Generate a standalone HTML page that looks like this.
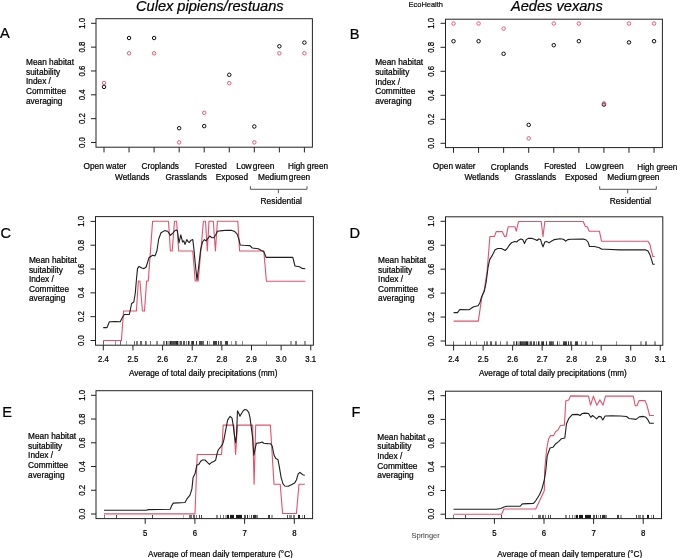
<!DOCTYPE html>
<html><head><meta charset="utf-8"><style>
html,body{margin:0;padding:0;background:#fff;width:677px;height:558px;overflow:hidden}
svg{display:block;will-change:transform}
text{font-family:"Liberation Sans", sans-serif;stroke:currentColor;stroke-width:0.22px}
</style></head><body>
<svg width="677" height="558" viewBox="0 0 677 558" font-family='"Liberation Sans", sans-serif'>
<rect width="677" height="558" fill="#fff"/>
<text x="136" y="10.9" font-size="14.6" textLength="147.6" lengthAdjust="spacingAndGlyphs" font-style="italic">Culex pipiens/restuans</text>
<text x="511" y="10.9" font-size="14.6" textLength="91.8" lengthAdjust="spacingAndGlyphs" font-style="italic">Aedes vexans</text>
<text x="408.6" y="6.8" font-size="7.6" textLength="34.4" lengthAdjust="spacingAndGlyphs" fill="#222" stroke="#222">EcoHealth</text>
<text x="411.4" y="537.8" font-size="7.6" textLength="28.4" lengthAdjust="spacingAndGlyphs" fill="#6a6a6a" stroke="#6a6a6a" style="stroke-width:0.1px">Springer</text>
<text x="0" y="37.7" font-size="14.6">A</text>
<text x="349.7" y="38.7" font-size="14.6">B</text>
<text x="0.6" y="237.8" font-size="14.6">C</text>
<text x="349.4" y="237.7" font-size="14.6">D</text>
<text x="2.2" y="416.9" font-size="14.6">E</text>
<text x="351.4" y="417.4" font-size="14.6">F</text>
<rect x="96" y="18.7" width="216.4" height="128.5" fill="none" stroke="#222" stroke-width="1.0"/>
<line x1="91" y1="142.5" x2="96" y2="142.5" stroke="#222" stroke-width="1"/>
<text x="0" y="0" font-size="7.8" text-anchor="middle" transform="translate(84.6,142.5) rotate(-90) scale(1,1.12)">0.0</text>
<line x1="91" y1="118.66" x2="96" y2="118.66" stroke="#222" stroke-width="1"/>
<text x="0" y="0" font-size="7.8" text-anchor="middle" transform="translate(84.6,118.66) rotate(-90) scale(1,1.12)">0.2</text>
<line x1="91" y1="94.82" x2="96" y2="94.82" stroke="#222" stroke-width="1"/>
<text x="0" y="0" font-size="7.8" text-anchor="middle" transform="translate(84.6,94.82) rotate(-90) scale(1,1.12)">0.4</text>
<line x1="91" y1="70.98" x2="96" y2="70.98" stroke="#222" stroke-width="1"/>
<text x="0" y="0" font-size="7.8" text-anchor="middle" transform="translate(84.6,70.98) rotate(-90) scale(1,1.12)">0.6</text>
<line x1="91" y1="47.14" x2="96" y2="47.14" stroke="#222" stroke-width="1"/>
<text x="0" y="0" font-size="7.8" text-anchor="middle" transform="translate(84.6,47.14) rotate(-90) scale(1,1.12)">0.8</text>
<line x1="91" y1="23.3" x2="96" y2="23.3" stroke="#222" stroke-width="1"/>
<text x="0" y="0" font-size="7.8" text-anchor="middle" transform="translate(84.6,23.3) rotate(-90) scale(1,1.12)">1.0</text>
<line x1="104" y1="147.2" x2="104" y2="152.4" stroke="#222" stroke-width="1"/>
<line x1="129.05" y1="147.2" x2="129.05" y2="152.4" stroke="#222" stroke-width="1"/>
<line x1="154.1" y1="147.2" x2="154.1" y2="152.4" stroke="#222" stroke-width="1"/>
<line x1="179.15" y1="147.2" x2="179.15" y2="152.4" stroke="#222" stroke-width="1"/>
<line x1="204.2" y1="147.2" x2="204.2" y2="152.4" stroke="#222" stroke-width="1"/>
<line x1="229.25" y1="147.2" x2="229.25" y2="152.4" stroke="#222" stroke-width="1"/>
<line x1="254.3" y1="147.2" x2="254.3" y2="152.4" stroke="#222" stroke-width="1"/>
<line x1="279.35" y1="147.2" x2="279.35" y2="152.4" stroke="#222" stroke-width="1"/>
<line x1="304.4" y1="147.2" x2="304.4" y2="152.4" stroke="#222" stroke-width="1"/>
<text x="83.5" y="168.7" font-size="8.4" textLength="42.8" lengthAdjust="spacingAndGlyphs">Open water</text>
<text x="115.1" y="179.9" font-size="8.4" textLength="34.4" lengthAdjust="spacingAndGlyphs">Wetlands</text>
<text x="141.5" y="168.7" font-size="8.4" textLength="37.5" lengthAdjust="spacingAndGlyphs">Croplands</text>
<text x="165.5" y="179.9" font-size="8.4" textLength="41.4" lengthAdjust="spacingAndGlyphs">Grasslands</text>
<text x="194.9" y="168.7" font-size="8.4" textLength="32" lengthAdjust="spacingAndGlyphs">Forested</text>
<text x="215.8" y="179.9" font-size="8.4" textLength="32.2" lengthAdjust="spacingAndGlyphs">Exposed</text>
<text x="236.2" y="168.7" font-size="8.4" textLength="38.2" lengthAdjust="spacingAndGlyphs" word-spacing="-1.2">Low green</text>
<text x="258" y="179.9" font-size="8.4" textLength="52.2" lengthAdjust="spacingAndGlyphs" word-spacing="-1.2">Medium green</text>
<text x="288" y="168.7" font-size="8.4" textLength="40" lengthAdjust="spacingAndGlyphs">High green</text>
<path d="M250.4,186.2 V189.3 H307 V186.2 M278.4,189.3 V193.2" fill="none" stroke="#444" stroke-width="0.9"/>
<text x="260.5" y="203.6" font-size="8.4" textLength="41.4" lengthAdjust="spacingAndGlyphs">Residential</text>
<circle cx="104" cy="86.9" r="1.75" fill="none" stroke="#000" stroke-width="0.95"/>
<circle cx="104" cy="82.9" r="1.75" fill="none" stroke="#DF536B" stroke-width="0.95"/>
<circle cx="129.05" cy="38" r="1.75" fill="none" stroke="#000" stroke-width="0.95"/>
<circle cx="129.05" cy="53.3" r="1.75" fill="none" stroke="#DF536B" stroke-width="0.95"/>
<circle cx="154.1" cy="38" r="1.75" fill="none" stroke="#000" stroke-width="0.95"/>
<circle cx="154.1" cy="53.3" r="1.75" fill="none" stroke="#DF536B" stroke-width="0.95"/>
<circle cx="179.15" cy="128.2" r="1.75" fill="none" stroke="#000" stroke-width="0.95"/>
<circle cx="179.15" cy="142.4" r="1.75" fill="none" stroke="#DF536B" stroke-width="0.95"/>
<circle cx="204.2" cy="126.1" r="1.75" fill="none" stroke="#000" stroke-width="0.95"/>
<circle cx="204.2" cy="112.8" r="1.75" fill="none" stroke="#DF536B" stroke-width="0.95"/>
<circle cx="229.25" cy="74.8" r="1.75" fill="none" stroke="#000" stroke-width="0.95"/>
<circle cx="229.25" cy="83.2" r="1.75" fill="none" stroke="#DF536B" stroke-width="0.95"/>
<circle cx="254.3" cy="126.5" r="1.75" fill="none" stroke="#000" stroke-width="0.95"/>
<circle cx="254.3" cy="142.4" r="1.75" fill="none" stroke="#DF536B" stroke-width="0.95"/>
<circle cx="279.35" cy="46.3" r="1.75" fill="none" stroke="#000" stroke-width="0.95"/>
<circle cx="279.35" cy="53.3" r="1.75" fill="none" stroke="#DF536B" stroke-width="0.95"/>
<circle cx="304.4" cy="42.6" r="1.75" fill="none" stroke="#000" stroke-width="0.95"/>
<circle cx="304.4" cy="53.3" r="1.75" fill="none" stroke="#DF536B" stroke-width="0.95"/>
<text x="26" y="64.7" font-size="8.3">Mean habitat</text>
<text x="26" y="74.5" font-size="8.3">suitability</text>
<text x="26" y="84.3" font-size="8.3">Index /</text>
<text x="26" y="94.1" font-size="8.3">Committee</text>
<text x="26" y="103.9" font-size="8.3">averaging</text>
<rect x="445.5" y="19.2" width="216.9" height="128.4" fill="none" stroke="#222" stroke-width="1.0"/>
<line x1="440.5" y1="143.3" x2="445.5" y2="143.3" stroke="#222" stroke-width="1"/>
<text x="0" y="0" font-size="7.8" text-anchor="middle" transform="translate(434.1,143.3) rotate(-90) scale(1,1.12)">0.0</text>
<line x1="440.5" y1="119.3" x2="445.5" y2="119.3" stroke="#222" stroke-width="1"/>
<text x="0" y="0" font-size="7.8" text-anchor="middle" transform="translate(434.1,119.3) rotate(-90) scale(1,1.12)">0.2</text>
<line x1="440.5" y1="95.3" x2="445.5" y2="95.3" stroke="#222" stroke-width="1"/>
<text x="0" y="0" font-size="7.8" text-anchor="middle" transform="translate(434.1,95.3) rotate(-90) scale(1,1.12)">0.4</text>
<line x1="440.5" y1="71.3" x2="445.5" y2="71.3" stroke="#222" stroke-width="1"/>
<text x="0" y="0" font-size="7.8" text-anchor="middle" transform="translate(434.1,71.3) rotate(-90) scale(1,1.12)">0.6</text>
<line x1="440.5" y1="47.3" x2="445.5" y2="47.3" stroke="#222" stroke-width="1"/>
<text x="0" y="0" font-size="7.8" text-anchor="middle" transform="translate(434.1,47.3) rotate(-90) scale(1,1.12)">0.8</text>
<line x1="440.5" y1="23.3" x2="445.5" y2="23.3" stroke="#222" stroke-width="1"/>
<text x="0" y="0" font-size="7.8" text-anchor="middle" transform="translate(434.1,23.3) rotate(-90) scale(1,1.12)">1.0</text>
<line x1="453.5" y1="147.6" x2="453.5" y2="152.8" stroke="#222" stroke-width="1"/>
<line x1="478.57" y1="147.6" x2="478.57" y2="152.8" stroke="#222" stroke-width="1"/>
<line x1="503.64" y1="147.6" x2="503.64" y2="152.8" stroke="#222" stroke-width="1"/>
<line x1="528.71" y1="147.6" x2="528.71" y2="152.8" stroke="#222" stroke-width="1"/>
<line x1="553.78" y1="147.6" x2="553.78" y2="152.8" stroke="#222" stroke-width="1"/>
<line x1="578.85" y1="147.6" x2="578.85" y2="152.8" stroke="#222" stroke-width="1"/>
<line x1="603.92" y1="147.6" x2="603.92" y2="152.8" stroke="#222" stroke-width="1"/>
<line x1="628.99" y1="147.6" x2="628.99" y2="152.8" stroke="#222" stroke-width="1"/>
<line x1="654.06" y1="147.6" x2="654.06" y2="152.8" stroke="#222" stroke-width="1"/>
<text x="432.8" y="168.7" font-size="8.4" textLength="42.8" lengthAdjust="spacingAndGlyphs">Open water</text>
<text x="464.4" y="179.9" font-size="8.4" textLength="34.4" lengthAdjust="spacingAndGlyphs">Wetlands</text>
<text x="490.8" y="169.5" font-size="8.4" textLength="37.5" lengthAdjust="spacingAndGlyphs">Croplands</text>
<text x="514.8" y="179.9" font-size="8.4" textLength="41.4" lengthAdjust="spacingAndGlyphs">Grasslands</text>
<text x="544.2" y="168.7" font-size="8.4" textLength="32" lengthAdjust="spacingAndGlyphs">Forested</text>
<text x="565.1" y="179.9" font-size="8.4" textLength="32.2" lengthAdjust="spacingAndGlyphs">Exposed</text>
<text x="585.5" y="168.7" font-size="8.4" textLength="38.2" lengthAdjust="spacingAndGlyphs" word-spacing="-1.2">Low green</text>
<text x="607.3" y="179.9" font-size="8.4" textLength="52.2" lengthAdjust="spacingAndGlyphs" word-spacing="-1.2">Medium green</text>
<text x="637.3" y="169.7" font-size="8.4" textLength="40" lengthAdjust="spacingAndGlyphs">High green</text>
<path d="M599.7,186.2 V189.3 H656.3 V186.2 M627.7,189.3 V193.2" fill="none" stroke="#444" stroke-width="0.9"/>
<text x="609.8" y="203.6" font-size="8.4" textLength="41.4" lengthAdjust="spacingAndGlyphs">Residential</text>
<circle cx="453.5" cy="41.2" r="1.75" fill="none" stroke="#000" stroke-width="0.95"/>
<circle cx="453.5" cy="23.5" r="1.75" fill="none" stroke="#DF536B" stroke-width="0.95"/>
<circle cx="478.57" cy="41.2" r="1.75" fill="none" stroke="#000" stroke-width="0.95"/>
<circle cx="478.57" cy="23.5" r="1.75" fill="none" stroke="#DF536B" stroke-width="0.95"/>
<circle cx="503.64" cy="53.8" r="1.75" fill="none" stroke="#000" stroke-width="0.95"/>
<circle cx="503.64" cy="28.6" r="1.75" fill="none" stroke="#DF536B" stroke-width="0.95"/>
<circle cx="528.71" cy="124.9" r="1.75" fill="none" stroke="#000" stroke-width="0.95"/>
<circle cx="528.71" cy="138.4" r="1.75" fill="none" stroke="#DF536B" stroke-width="0.95"/>
<circle cx="553.78" cy="45.2" r="1.75" fill="none" stroke="#000" stroke-width="0.95"/>
<circle cx="553.78" cy="23.5" r="1.75" fill="none" stroke="#DF536B" stroke-width="0.95"/>
<circle cx="578.85" cy="41.2" r="1.75" fill="none" stroke="#000" stroke-width="0.95"/>
<circle cx="578.85" cy="23.5" r="1.75" fill="none" stroke="#DF536B" stroke-width="0.95"/>
<circle cx="603.92" cy="104.6" r="1.75" fill="none" stroke="#000" stroke-width="0.95"/>
<circle cx="603.92" cy="103.4" r="1.75" fill="none" stroke="#DF536B" stroke-width="0.95"/>
<circle cx="628.99" cy="42.4" r="1.75" fill="none" stroke="#000" stroke-width="0.95"/>
<circle cx="628.99" cy="23.5" r="1.75" fill="none" stroke="#DF536B" stroke-width="0.95"/>
<circle cx="654.06" cy="41.2" r="1.75" fill="none" stroke="#000" stroke-width="0.95"/>
<circle cx="654.06" cy="23.5" r="1.75" fill="none" stroke="#DF536B" stroke-width="0.95"/>
<text x="375.2" y="65" font-size="8.3">Mean habitat</text>
<text x="375.2" y="74.75" font-size="8.3">suitability</text>
<text x="375.2" y="84.5" font-size="8.3">Index /</text>
<text x="375.2" y="94.25" font-size="8.3">Committee</text>
<text x="375.2" y="104" font-size="8.3">averaging</text>
<rect x="95.5" y="216.6" width="217.9" height="128.6" fill="none" stroke="#222" stroke-width="1.0"/>
<line x1="90.5" y1="340.5" x2="95.5" y2="340.5" stroke="#222" stroke-width="1"/>
<text x="0" y="0" font-size="7.8" text-anchor="middle" transform="translate(84.1,340.5) rotate(-90) scale(1,1.12)">0.0</text>
<line x1="90.5" y1="316.68" x2="95.5" y2="316.68" stroke="#222" stroke-width="1"/>
<text x="0" y="0" font-size="7.8" text-anchor="middle" transform="translate(84.1,316.68) rotate(-90) scale(1,1.12)">0.2</text>
<line x1="90.5" y1="292.86" x2="95.5" y2="292.86" stroke="#222" stroke-width="1"/>
<text x="0" y="0" font-size="7.8" text-anchor="middle" transform="translate(84.1,292.86) rotate(-90) scale(1,1.12)">0.4</text>
<line x1="90.5" y1="269.04" x2="95.5" y2="269.04" stroke="#222" stroke-width="1"/>
<text x="0" y="0" font-size="7.8" text-anchor="middle" transform="translate(84.1,269.04) rotate(-90) scale(1,1.12)">0.6</text>
<line x1="90.5" y1="245.22" x2="95.5" y2="245.22" stroke="#222" stroke-width="1"/>
<text x="0" y="0" font-size="7.8" text-anchor="middle" transform="translate(84.1,245.22) rotate(-90) scale(1,1.12)">0.8</text>
<line x1="90.5" y1="221.4" x2="95.5" y2="221.4" stroke="#222" stroke-width="1"/>
<text x="0" y="0" font-size="7.8" text-anchor="middle" transform="translate(84.1,221.4) rotate(-90) scale(1,1.12)">1.0</text>
<line x1="103.3" y1="345.2" x2="103.3" y2="350.4" stroke="#222" stroke-width="1"/>
<text x="0" y="0" font-size="7.8" text-anchor="middle" transform="translate(103.3,362.4) scale(1,1.12)">2.4</text>
<line x1="132.94" y1="345.2" x2="132.94" y2="350.4" stroke="#222" stroke-width="1"/>
<text x="0" y="0" font-size="7.8" text-anchor="middle" transform="translate(132.94,362.4) scale(1,1.12)">2.5</text>
<line x1="162.58" y1="345.2" x2="162.58" y2="350.4" stroke="#222" stroke-width="1"/>
<text x="0" y="0" font-size="7.8" text-anchor="middle" transform="translate(162.58,362.4) scale(1,1.12)">2.6</text>
<line x1="192.22" y1="345.2" x2="192.22" y2="350.4" stroke="#222" stroke-width="1"/>
<text x="0" y="0" font-size="7.8" text-anchor="middle" transform="translate(192.22,362.4) scale(1,1.12)">2.7</text>
<line x1="221.86" y1="345.2" x2="221.86" y2="350.4" stroke="#222" stroke-width="1"/>
<text x="0" y="0" font-size="7.8" text-anchor="middle" transform="translate(221.86,362.4) scale(1,1.12)">2.8</text>
<line x1="251.5" y1="345.2" x2="251.5" y2="350.4" stroke="#222" stroke-width="1"/>
<text x="0" y="0" font-size="7.8" text-anchor="middle" transform="translate(251.5,362.4) scale(1,1.12)">2.9</text>
<line x1="281.14" y1="345.2" x2="281.14" y2="350.4" stroke="#222" stroke-width="1"/>
<text x="0" y="0" font-size="7.8" text-anchor="middle" transform="translate(281.14,362.4) scale(1,1.12)">3.0</text>
<line x1="310.78" y1="345.2" x2="310.78" y2="350.4" stroke="#222" stroke-width="1"/>
<text x="0" y="0" font-size="7.8" text-anchor="middle" transform="translate(310.78,362.4) scale(1,1.12)">3.1</text>
<text x="129" y="375.8" font-size="8.3" textLength="148.4" lengthAdjust="spacingAndGlyphs">Average of total daily precipitations (mm)</text>
<rect x="103" y="341" width="1" height="3.8" fill="#000" fill-opacity="0.6"/>
<rect x="115" y="341" width="1" height="3.8" fill="#000" fill-opacity="0.45"/>
<rect x="120" y="341" width="1" height="3.8" fill="#000" fill-opacity="0.6"/>
<rect x="126" y="341" width="1" height="3.8" fill="#000" fill-opacity="0.35"/>
<rect x="134" y="341" width="1" height="3.8" fill="#000" fill-opacity="0.6"/>
<rect x="136" y="341" width="1" height="3.8" fill="#000" fill-opacity="0.5"/>
<rect x="137" y="341" width="1" height="3.8" fill="#000" fill-opacity="0.5"/>
<rect x="140" y="341" width="1" height="3.8" fill="#000" fill-opacity="0.6"/>
<rect x="141" y="341" width="1" height="3.8" fill="#000" fill-opacity="0.6"/>
<rect x="145" y="341" width="1" height="3.8" fill="#000" fill-opacity="0.6"/>
<rect x="146" y="341" width="1" height="3.8" fill="#000" fill-opacity="0.4"/>
<rect x="150" y="341" width="1" height="3.8" fill="#000" fill-opacity="0.55"/>
<rect x="156" y="341" width="1" height="3.8" fill="#000" fill-opacity="0.4"/>
<rect x="157" y="341" width="1" height="3.8" fill="#000" fill-opacity="0.45"/>
<rect x="163" y="341" width="1" height="3.8" fill="#000" fill-opacity="0.5"/>
<rect x="164" y="341" width="1" height="3.8" fill="#000" fill-opacity="0.4"/>
<rect x="166" y="341" width="1" height="3.8" fill="#000" fill-opacity="0.85"/>
<rect x="167" y="341" width="1" height="3.8" fill="#000" fill-opacity="0.3"/>
<rect x="168" y="341" width="1" height="3.8" fill="#000" fill-opacity="0.3"/>
<rect x="169" y="341" width="1" height="3.8" fill="#000" fill-opacity="0.4"/>
<rect x="170" y="341" width="1" height="3.8" fill="#000" fill-opacity="0.85"/>
<rect x="171" y="341" width="1" height="3.8" fill="#000" fill-opacity="0.7"/>
<rect x="172" y="341" width="1" height="3.8" fill="#000" fill-opacity="0.7"/>
<rect x="173" y="341" width="1" height="3.8" fill="#000" fill-opacity="0.7"/>
<rect x="174" y="341" width="1" height="3.8" fill="#000" fill-opacity="0.7"/>
<rect x="175" y="341" width="1" height="3.8" fill="#000" fill-opacity="0.7"/>
<rect x="176" y="341" width="1" height="3.8" fill="#000" fill-opacity="0.85"/>
<rect x="177" y="341" width="1" height="3.8" fill="#000" fill-opacity="0.85"/>
<rect x="178" y="341" width="1" height="3.8" fill="#000" fill-opacity="0.3"/>
<rect x="179" y="341" width="1" height="3.8" fill="#000" fill-opacity="0.3"/>
<rect x="180" y="341" width="1" height="3.8" fill="#000" fill-opacity="0.65"/>
<rect x="181" y="341" width="1" height="3.8" fill="#000" fill-opacity="0.65"/>
<rect x="183" y="341" width="1" height="3.8" fill="#000" fill-opacity="0.65"/>
<rect x="184" y="341" width="1" height="3.8" fill="#000" fill-opacity="0.65"/>
<rect x="186" y="341" width="1" height="3.8" fill="#000" fill-opacity="0.5"/>
<rect x="188" y="341" width="1" height="3.8" fill="#000" fill-opacity="0.85"/>
<rect x="189" y="341" width="1" height="3.8" fill="#000" fill-opacity="0.4"/>
<rect x="191" y="341" width="1" height="3.8" fill="#000" fill-opacity="0.6"/>
<rect x="192" y="341" width="1" height="3.8" fill="#000" fill-opacity="0.8"/>
<rect x="193" y="341" width="1" height="3.8" fill="#000" fill-opacity="0.8"/>
<rect x="196" y="341" width="1" height="3.8" fill="#000" fill-opacity="0.8"/>
<rect x="199" y="341" width="1" height="3.8" fill="#000" fill-opacity="0.7"/>
<rect x="200" y="341" width="1" height="3.8" fill="#000" fill-opacity="0.7"/>
<rect x="201" y="341" width="1" height="3.8" fill="#000" fill-opacity="0.7"/>
<rect x="202" y="341" width="1" height="3.8" fill="#000" fill-opacity="0.6"/>
<rect x="203" y="341" width="1" height="3.8" fill="#000" fill-opacity="0.6"/>
<rect x="207" y="341" width="1" height="3.8" fill="#000" fill-opacity="0.75"/>
<rect x="209" y="341" width="1" height="3.8" fill="#000" fill-opacity="0.3"/>
<rect x="213" y="341" width="1" height="3.8" fill="#000" fill-opacity="0.75"/>
<rect x="214" y="341" width="1" height="3.8" fill="#000" fill-opacity="0.75"/>
<rect x="215" y="341" width="1" height="3.8" fill="#000" fill-opacity="0.75"/>
<rect x="216" y="341" width="1" height="3.8" fill="#000" fill-opacity="0.75"/>
<rect x="218" y="341" width="1" height="3.8" fill="#000" fill-opacity="0.8"/>
<rect x="220" y="341" width="1" height="3.8" fill="#000" fill-opacity="0.6"/>
<rect x="221" y="341" width="1" height="3.8" fill="#000" fill-opacity="0.6"/>
<rect x="225" y="341" width="1" height="3.8" fill="#000" fill-opacity="0.75"/>
<rect x="226" y="341" width="1" height="3.8" fill="#000" fill-opacity="0.75"/>
<rect x="227" y="341" width="1" height="3.8" fill="#000" fill-opacity="0.75"/>
<rect x="231" y="341" width="1" height="3.8" fill="#000" fill-opacity="0.35"/>
<rect x="235" y="341" width="1" height="3.8" fill="#000" fill-opacity="0.5"/>
<rect x="236" y="341" width="1" height="3.8" fill="#000" fill-opacity="0.4"/>
<rect x="242" y="341" width="1" height="3.8" fill="#000" fill-opacity="0.45"/>
<rect x="266" y="341" width="1" height="3.8" fill="#000" fill-opacity="0.45"/>
<rect x="290" y="341" width="1" height="3.8" fill="#000" fill-opacity="0.35"/>
<rect x="291" y="341" width="1" height="3.8" fill="#000" fill-opacity="0.35"/>
<rect x="295" y="341" width="1" height="3.8" fill="#000" fill-opacity="0.5"/>
<rect x="296" y="341" width="1" height="3.8" fill="#000" fill-opacity="0.5"/>
<rect x="304" y="341" width="1" height="3.8" fill="#000" fill-opacity="0.4"/>
<rect x="305" y="341" width="1" height="3.8" fill="#000" fill-opacity="0.4"/>
<polyline points="103.2,340.5 121.4,340.5 123.6,311 136.4,311 138.4,281 139.9,281 142.4,311 144.5,311 146.6,281 148.3,281 152.6,221.3 168.5,221.3 170.4,251 172.2,251 174.5,221.3 176.6,221.3 178.7,251 192.8,251 195.2,281 198.2,281 203.4,221.3 205.5,221.3 207.3,251 209,221.3 213.3,221.3 215.4,251 217.4,221.3 237.8,221.3 239.6,251 263.8,251 266.4,281.3 305.3,281.3" fill="none" stroke="#DF536B" stroke-width="1.1" stroke-linejoin="round"/>
<polyline points="103.2,327.6 107,327.6 109.4,321.7 115,321.5 120.2,321.7 123.2,316 124.4,314.5 129.3,314.5 130.3,310 131.6,303.5 133.8,302 135.3,293 136.4,280 137.5,268.6 139,266.4 141.8,268 144,268.6 146.1,267 147.7,262 149,257.7 152.6,255.3 155,255.9 156.9,251 158.7,239 161,232.8 164.7,230.6 167.7,231.2 170.4,235.4 172.4,233.5 175,230.6 176.5,230 177.5,231 179,243 180.8,234.8 182.6,242 183.8,240.8 185,244.4 186.8,239.6 188,241.4 189.2,242.6 191,240.2 192.8,239.6 194,250 195.2,263 197,280 198.8,265.5 200.6,250 202.5,242 204.3,239.6 206,240.8 207.9,238.4 209.7,236 212,237.8 213.9,237.8 215.7,234.8 217.5,231.2 222.2,230.6 227,230.3 231.8,230.4 234.8,231.6 237.2,234.2 239,239.6 240.2,245 243.8,245.3 249.9,245.6 252.3,248 258.3,248.7 261.3,250.5 263.8,251.6 266.1,257.4 292.8,257.4 295,266 299.6,266.8 301.9,268.4 305.3,268.8" fill="none" stroke="#1e1e1e" stroke-width="1.1" stroke-linejoin="round"/>
<text x="28.9" y="263" font-size="8.3">Mean habitat</text>
<text x="28.9" y="272.6" font-size="8.3">suitability</text>
<text x="28.9" y="282.2" font-size="8.3">Index /</text>
<text x="28.9" y="291.8" font-size="8.3">Committee</text>
<text x="28.9" y="301.4" font-size="8.3">averaging</text>
<rect x="445.5" y="216.8" width="217.3" height="128.5" fill="none" stroke="#222" stroke-width="1.0"/>
<line x1="440.5" y1="341" x2="445.5" y2="341" stroke="#222" stroke-width="1"/>
<text x="0" y="0" font-size="7.8" text-anchor="middle" transform="translate(434.1,341) rotate(-90) scale(1,1.12)">0.0</text>
<line x1="440.5" y1="317.06" x2="445.5" y2="317.06" stroke="#222" stroke-width="1"/>
<text x="0" y="0" font-size="7.8" text-anchor="middle" transform="translate(434.1,317.06) rotate(-90) scale(1,1.12)">0.2</text>
<line x1="440.5" y1="293.12" x2="445.5" y2="293.12" stroke="#222" stroke-width="1"/>
<text x="0" y="0" font-size="7.8" text-anchor="middle" transform="translate(434.1,293.12) rotate(-90) scale(1,1.12)">0.4</text>
<line x1="440.5" y1="269.18" x2="445.5" y2="269.18" stroke="#222" stroke-width="1"/>
<text x="0" y="0" font-size="7.8" text-anchor="middle" transform="translate(434.1,269.18) rotate(-90) scale(1,1.12)">0.6</text>
<line x1="440.5" y1="245.24" x2="445.5" y2="245.24" stroke="#222" stroke-width="1"/>
<text x="0" y="0" font-size="7.8" text-anchor="middle" transform="translate(434.1,245.24) rotate(-90) scale(1,1.12)">0.8</text>
<line x1="440.5" y1="221.3" x2="445.5" y2="221.3" stroke="#222" stroke-width="1"/>
<text x="0" y="0" font-size="7.8" text-anchor="middle" transform="translate(434.1,221.3) rotate(-90) scale(1,1.12)">1.0</text>
<line x1="453.6" y1="345.3" x2="453.6" y2="350.5" stroke="#222" stroke-width="1"/>
<text x="0" y="0" font-size="7.8" text-anchor="middle" transform="translate(453.6,362.4) scale(1,1.12)">2.4</text>
<line x1="483.12" y1="345.3" x2="483.12" y2="350.5" stroke="#222" stroke-width="1"/>
<text x="0" y="0" font-size="7.8" text-anchor="middle" transform="translate(483.12,362.4) scale(1,1.12)">2.5</text>
<line x1="512.64" y1="345.3" x2="512.64" y2="350.5" stroke="#222" stroke-width="1"/>
<text x="0" y="0" font-size="7.8" text-anchor="middle" transform="translate(512.64,362.4) scale(1,1.12)">2.6</text>
<line x1="542.16" y1="345.3" x2="542.16" y2="350.5" stroke="#222" stroke-width="1"/>
<text x="0" y="0" font-size="7.8" text-anchor="middle" transform="translate(542.16,362.4) scale(1,1.12)">2.7</text>
<line x1="571.68" y1="345.3" x2="571.68" y2="350.5" stroke="#222" stroke-width="1"/>
<text x="0" y="0" font-size="7.8" text-anchor="middle" transform="translate(571.68,362.4) scale(1,1.12)">2.8</text>
<line x1="601.2" y1="345.3" x2="601.2" y2="350.5" stroke="#222" stroke-width="1"/>
<text x="0" y="0" font-size="7.8" text-anchor="middle" transform="translate(601.2,362.4) scale(1,1.12)">2.9</text>
<line x1="630.72" y1="345.3" x2="630.72" y2="350.5" stroke="#222" stroke-width="1"/>
<text x="0" y="0" font-size="7.8" text-anchor="middle" transform="translate(630.72,362.4) scale(1,1.12)">3.0</text>
<line x1="660.24" y1="345.3" x2="660.24" y2="350.5" stroke="#222" stroke-width="1"/>
<text x="0" y="0" font-size="7.8" text-anchor="middle" transform="translate(660.24,362.4) scale(1,1.12)">3.1</text>
<text x="479" y="375.8" font-size="8.3" textLength="147.7" lengthAdjust="spacingAndGlyphs">Average of total daily precipitations (mm)</text>
<rect x="453" y="341.3" width="1" height="3.8" fill="#000" fill-opacity="0.6"/>
<rect x="465" y="341.3" width="1" height="3.8" fill="#000" fill-opacity="0.45"/>
<rect x="470" y="341.3" width="1" height="3.8" fill="#000" fill-opacity="0.6"/>
<rect x="476" y="341.3" width="1" height="3.8" fill="#000" fill-opacity="0.35"/>
<rect x="484" y="341.3" width="1" height="3.8" fill="#000" fill-opacity="0.6"/>
<rect x="486" y="341.3" width="1" height="3.8" fill="#000" fill-opacity="0.5"/>
<rect x="487" y="341.3" width="1" height="3.8" fill="#000" fill-opacity="0.5"/>
<rect x="490" y="341.3" width="1" height="3.8" fill="#000" fill-opacity="0.6"/>
<rect x="491" y="341.3" width="1" height="3.8" fill="#000" fill-opacity="0.6"/>
<rect x="495" y="341.3" width="1" height="3.8" fill="#000" fill-opacity="0.6"/>
<rect x="496" y="341.3" width="1" height="3.8" fill="#000" fill-opacity="0.4"/>
<rect x="500" y="341.3" width="1" height="3.8" fill="#000" fill-opacity="0.55"/>
<rect x="506" y="341.3" width="1" height="3.8" fill="#000" fill-opacity="0.4"/>
<rect x="507" y="341.3" width="1" height="3.8" fill="#000" fill-opacity="0.45"/>
<rect x="513" y="341.3" width="1" height="3.8" fill="#000" fill-opacity="0.5"/>
<rect x="514" y="341.3" width="1" height="3.8" fill="#000" fill-opacity="0.4"/>
<rect x="516" y="341.3" width="1" height="3.8" fill="#000" fill-opacity="0.85"/>
<rect x="517" y="341.3" width="1" height="3.8" fill="#000" fill-opacity="0.3"/>
<rect x="518" y="341.3" width="1" height="3.8" fill="#000" fill-opacity="0.3"/>
<rect x="519" y="341.3" width="1" height="3.8" fill="#000" fill-opacity="0.4"/>
<rect x="520" y="341.3" width="1" height="3.8" fill="#000" fill-opacity="0.85"/>
<rect x="521" y="341.3" width="1" height="3.8" fill="#000" fill-opacity="0.7"/>
<rect x="522" y="341.3" width="1" height="3.8" fill="#000" fill-opacity="0.7"/>
<rect x="523" y="341.3" width="1" height="3.8" fill="#000" fill-opacity="0.7"/>
<rect x="524" y="341.3" width="1" height="3.8" fill="#000" fill-opacity="0.7"/>
<rect x="525" y="341.3" width="1" height="3.8" fill="#000" fill-opacity="0.7"/>
<rect x="526" y="341.3" width="1" height="3.8" fill="#000" fill-opacity="0.85"/>
<rect x="527" y="341.3" width="1" height="3.8" fill="#000" fill-opacity="0.85"/>
<rect x="528" y="341.3" width="1" height="3.8" fill="#000" fill-opacity="0.3"/>
<rect x="529" y="341.3" width="1" height="3.8" fill="#000" fill-opacity="0.3"/>
<rect x="530" y="341.3" width="1" height="3.8" fill="#000" fill-opacity="0.65"/>
<rect x="531" y="341.3" width="1" height="3.8" fill="#000" fill-opacity="0.65"/>
<rect x="533" y="341.3" width="1" height="3.8" fill="#000" fill-opacity="0.65"/>
<rect x="534" y="341.3" width="1" height="3.8" fill="#000" fill-opacity="0.65"/>
<rect x="536" y="341.3" width="1" height="3.8" fill="#000" fill-opacity="0.5"/>
<rect x="538" y="341.3" width="1" height="3.8" fill="#000" fill-opacity="0.85"/>
<rect x="539" y="341.3" width="1" height="3.8" fill="#000" fill-opacity="0.4"/>
<rect x="541" y="341.3" width="1" height="3.8" fill="#000" fill-opacity="0.6"/>
<rect x="542" y="341.3" width="1" height="3.8" fill="#000" fill-opacity="0.8"/>
<rect x="543" y="341.3" width="1" height="3.8" fill="#000" fill-opacity="0.8"/>
<rect x="546" y="341.3" width="1" height="3.8" fill="#000" fill-opacity="0.8"/>
<rect x="549" y="341.3" width="1" height="3.8" fill="#000" fill-opacity="0.7"/>
<rect x="550" y="341.3" width="1" height="3.8" fill="#000" fill-opacity="0.7"/>
<rect x="551" y="341.3" width="1" height="3.8" fill="#000" fill-opacity="0.7"/>
<rect x="552" y="341.3" width="1" height="3.8" fill="#000" fill-opacity="0.6"/>
<rect x="553" y="341.3" width="1" height="3.8" fill="#000" fill-opacity="0.6"/>
<rect x="557" y="341.3" width="1" height="3.8" fill="#000" fill-opacity="0.75"/>
<rect x="559" y="341.3" width="1" height="3.8" fill="#000" fill-opacity="0.3"/>
<rect x="563" y="341.3" width="1" height="3.8" fill="#000" fill-opacity="0.75"/>
<rect x="564" y="341.3" width="1" height="3.8" fill="#000" fill-opacity="0.75"/>
<rect x="565" y="341.3" width="1" height="3.8" fill="#000" fill-opacity="0.75"/>
<rect x="566" y="341.3" width="1" height="3.8" fill="#000" fill-opacity="0.75"/>
<rect x="568" y="341.3" width="1" height="3.8" fill="#000" fill-opacity="0.8"/>
<rect x="570" y="341.3" width="1" height="3.8" fill="#000" fill-opacity="0.6"/>
<rect x="571" y="341.3" width="1" height="3.8" fill="#000" fill-opacity="0.6"/>
<rect x="575" y="341.3" width="1" height="3.8" fill="#000" fill-opacity="0.75"/>
<rect x="576" y="341.3" width="1" height="3.8" fill="#000" fill-opacity="0.75"/>
<rect x="577" y="341.3" width="1" height="3.8" fill="#000" fill-opacity="0.75"/>
<rect x="581" y="341.3" width="1" height="3.8" fill="#000" fill-opacity="0.35"/>
<rect x="585" y="341.3" width="1" height="3.8" fill="#000" fill-opacity="0.5"/>
<rect x="586" y="341.3" width="1" height="3.8" fill="#000" fill-opacity="0.4"/>
<rect x="592" y="341.3" width="1" height="3.8" fill="#000" fill-opacity="0.45"/>
<rect x="616" y="341.3" width="1" height="3.8" fill="#000" fill-opacity="0.45"/>
<rect x="640" y="341.3" width="1" height="3.8" fill="#000" fill-opacity="0.35"/>
<rect x="641" y="341.3" width="1" height="3.8" fill="#000" fill-opacity="0.35"/>
<rect x="645" y="341.3" width="1" height="3.8" fill="#000" fill-opacity="0.5"/>
<rect x="646" y="341.3" width="1" height="3.8" fill="#000" fill-opacity="0.5"/>
<rect x="654" y="341.3" width="1" height="3.8" fill="#000" fill-opacity="0.4"/>
<rect x="655" y="341.3" width="1" height="3.8" fill="#000" fill-opacity="0.4"/>
<polyline points="453.6,321.1 478.3,321.1 481.7,298.2 484.4,289.2 487.1,271.3 489.9,236.5 494.4,236.5 496.2,231.6 502.2,231.6 504.6,236.4 506.2,236.4 508.2,226.7 514.9,226.7 516.3,231.2 518.5,221.5 541.2,221.5 543,236.6 544.8,221.5 583.2,221.5 585.4,226.4 587.4,227 589.2,231.2 599.4,231.2 601.5,241.2 648,241.2 649.9,244.4 651.1,249.9 652.9,256.5 654.7,256.5" fill="none" stroke="#DF536B" stroke-width="1.1" stroke-linejoin="round"/>
<polyline points="453.6,312.6 457.5,312.6 459.8,309.5 469.1,309.8 473.6,306.8 478.1,305.8 479.9,302.7 481.7,296.4 484.4,291 486.2,282 488,267.7 489.7,259.6 492.4,255.1 495.1,249.7 497.8,248.5 501.4,248.5 505.2,250.5 507,248.7 509.4,245 511.9,242.4 514.9,241.4 516.7,242 518.5,240.2 520.9,239 522.7,239.6 524.5,243.5 526.3,239.6 528.1,238.4 532.2,238.4 535.2,239.6 537,240.5 538.8,239 540.6,239.6 541.8,243.8 543,246.9 544.8,242 546.6,241.4 549,242.9 551.4,241.2 554.4,239.6 559.9,238.8 563.5,239.3 565.9,241.2 567.7,239.6 570.7,239.3 583.2,239 586.2,240 588,242 589.5,246.5 594,246.5 598.8,247.5 601.9,249.3 606,249.3 620,249.9 645.6,249.9 648,251.1 649.9,254.7 651.7,260.1 652.9,264.3 654.7,264.3" fill="none" stroke="#1e1e1e" stroke-width="1.1" stroke-linejoin="round"/>
<text x="378.1" y="263" font-size="8.3">Mean habitat</text>
<text x="378.1" y="272.55" font-size="8.3">suitability</text>
<text x="378.1" y="282.1" font-size="8.3">Index /</text>
<text x="378.1" y="291.65" font-size="8.3">Committee</text>
<text x="378.1" y="301.2" font-size="8.3">averaging</text>
<rect x="96" y="390.7" width="216.6" height="127.9" fill="none" stroke="#222" stroke-width="1.0"/>
<line x1="91" y1="514" x2="96" y2="514" stroke="#222" stroke-width="1"/>
<text x="0" y="0" font-size="7.8" text-anchor="middle" transform="translate(84.6,514) rotate(-90) scale(1,1.12)">0.0</text>
<line x1="91" y1="490.26" x2="96" y2="490.26" stroke="#222" stroke-width="1"/>
<text x="0" y="0" font-size="7.8" text-anchor="middle" transform="translate(84.6,490.26) rotate(-90) scale(1,1.12)">0.2</text>
<line x1="91" y1="466.52" x2="96" y2="466.52" stroke="#222" stroke-width="1"/>
<text x="0" y="0" font-size="7.8" text-anchor="middle" transform="translate(84.6,466.52) rotate(-90) scale(1,1.12)">0.4</text>
<line x1="91" y1="442.78" x2="96" y2="442.78" stroke="#222" stroke-width="1"/>
<text x="0" y="0" font-size="7.8" text-anchor="middle" transform="translate(84.6,442.78) rotate(-90) scale(1,1.12)">0.6</text>
<line x1="91" y1="419.04" x2="96" y2="419.04" stroke="#222" stroke-width="1"/>
<text x="0" y="0" font-size="7.8" text-anchor="middle" transform="translate(84.6,419.04) rotate(-90) scale(1,1.12)">0.8</text>
<line x1="91" y1="395.3" x2="96" y2="395.3" stroke="#222" stroke-width="1"/>
<text x="0" y="0" font-size="7.8" text-anchor="middle" transform="translate(84.6,395.3) rotate(-90) scale(1,1.12)">1.0</text>
<line x1="145.2" y1="518.6" x2="145.2" y2="523.8" stroke="#222" stroke-width="1"/>
<text x="0" y="0" font-size="7.8" text-anchor="middle" transform="translate(145.2,536) scale(1,1.12)">5</text>
<line x1="194.9" y1="518.6" x2="194.9" y2="523.8" stroke="#222" stroke-width="1"/>
<text x="0" y="0" font-size="7.8" text-anchor="middle" transform="translate(194.9,536) scale(1,1.12)">6</text>
<line x1="244.6" y1="518.6" x2="244.6" y2="523.8" stroke="#222" stroke-width="1"/>
<text x="0" y="0" font-size="7.8" text-anchor="middle" transform="translate(244.6,536) scale(1,1.12)">7</text>
<line x1="294.3" y1="518.6" x2="294.3" y2="523.8" stroke="#222" stroke-width="1"/>
<text x="0" y="0" font-size="7.8" text-anchor="middle" transform="translate(294.3,536) scale(1,1.12)">8</text>
<text x="148.1" y="556.7" font-size="8.3" textLength="144.7" lengthAdjust="spacingAndGlyphs">Average of mean daily temperature (°C)</text>
<rect x="104" y="514.9" width="1" height="3.2" fill="#000" fill-opacity="0.5"/>
<rect x="116" y="514.9" width="1" height="3.2" fill="#000" fill-opacity="0.7"/>
<rect x="152" y="514.9" width="1" height="3.2" fill="#000" fill-opacity="0.7"/>
<rect x="183" y="514.9" width="1" height="3.2" fill="#000" fill-opacity="0.3"/>
<rect x="189" y="514.9" width="1" height="3.2" fill="#000" fill-opacity="0.55"/>
<rect x="190" y="514.9" width="1" height="3.2" fill="#000" fill-opacity="0.55"/>
<rect x="191" y="514.9" width="1" height="3.2" fill="#000" fill-opacity="0.55"/>
<rect x="193" y="514.9" width="1" height="3.2" fill="#000" fill-opacity="0.6"/>
<rect x="194" y="514.9" width="1" height="3.2" fill="#000" fill-opacity="0.6"/>
<rect x="196" y="514.9" width="1" height="3.2" fill="#000" fill-opacity="0.5"/>
<rect x="199" y="514.9" width="1" height="3.2" fill="#000" fill-opacity="0.7"/>
<rect x="201" y="514.9" width="1" height="3.2" fill="#000" fill-opacity="0.7"/>
<rect x="216" y="514.9" width="1" height="3.2" fill="#000" fill-opacity="0.45"/>
<rect x="217" y="514.9" width="1" height="3.2" fill="#000" fill-opacity="0.45"/>
<rect x="220" y="514.9" width="1" height="3.2" fill="#000" fill-opacity="0.55"/>
<rect x="223" y="514.9" width="1" height="3.2" fill="#000" fill-opacity="0.55"/>
<rect x="225" y="514.9" width="1" height="3.2" fill="#000" fill-opacity="0.3"/>
<rect x="226" y="514.9" width="1" height="3.2" fill="#000" fill-opacity="0.3"/>
<rect x="227" y="514.9" width="1" height="3.2" fill="#000" fill-opacity="0.9"/>
<rect x="228" y="514.9" width="1" height="3.2" fill="#000" fill-opacity="0.9"/>
<rect x="230" y="514.9" width="1" height="3.2" fill="#000" fill-opacity="0.9"/>
<rect x="231" y="514.9" width="1" height="3.2" fill="#000" fill-opacity="0.9"/>
<rect x="232" y="514.9" width="1" height="3.2" fill="#000" fill-opacity="0.9"/>
<rect x="233" y="514.9" width="1" height="3.2" fill="#000" fill-opacity="0.9"/>
<rect x="236" y="514.9" width="1" height="3.2" fill="#000" fill-opacity="0.9"/>
<rect x="237" y="514.9" width="1" height="3.2" fill="#000" fill-opacity="0.9"/>
<rect x="238" y="514.9" width="1" height="3.2" fill="#000" fill-opacity="0.9"/>
<rect x="239" y="514.9" width="1" height="3.2" fill="#000" fill-opacity="0.9"/>
<rect x="240" y="514.9" width="1" height="3.2" fill="#000" fill-opacity="0.9"/>
<rect x="241" y="514.9" width="1" height="3.2" fill="#000" fill-opacity="0.9"/>
<rect x="244" y="514.9" width="1" height="3.2" fill="#000" fill-opacity="0.65"/>
<rect x="245" y="514.9" width="1" height="3.2" fill="#000" fill-opacity="0.65"/>
<rect x="247" y="514.9" width="1" height="3.2" fill="#000" fill-opacity="0.85"/>
<rect x="249" y="514.9" width="1" height="3.2" fill="#000" fill-opacity="0.3"/>
<rect x="251" y="514.9" width="1" height="3.2" fill="#000" fill-opacity="0.75"/>
<rect x="253" y="514.9" width="1" height="3.2" fill="#000" fill-opacity="0.8"/>
<rect x="254" y="514.9" width="1" height="3.2" fill="#000" fill-opacity="0.8"/>
<rect x="255" y="514.9" width="1" height="3.2" fill="#000" fill-opacity="0.8"/>
<rect x="256" y="514.9" width="1" height="3.2" fill="#000" fill-opacity="0.5"/>
<rect x="257" y="514.9" width="1" height="3.2" fill="#000" fill-opacity="0.5"/>
<rect x="268" y="514.9" width="1" height="3.2" fill="#000" fill-opacity="0.75"/>
<rect x="269" y="514.9" width="1" height="3.2" fill="#000" fill-opacity="0.75"/>
<rect x="271" y="514.9" width="1" height="3.2" fill="#000" fill-opacity="0.35"/>
<rect x="272" y="514.9" width="1" height="3.2" fill="#000" fill-opacity="0.35"/>
<rect x="287" y="514.9" width="1" height="3.2" fill="#000" fill-opacity="0.7"/>
<rect x="289" y="514.9" width="1" height="3.2" fill="#000" fill-opacity="0.45"/>
<rect x="290" y="514.9" width="1" height="3.2" fill="#000" fill-opacity="0.45"/>
<rect x="291" y="514.9" width="1" height="3.2" fill="#000" fill-opacity="0.45"/>
<rect x="293" y="514.9" width="1" height="3.2" fill="#000" fill-opacity="0.5"/>
<rect x="294" y="514.9" width="1" height="3.2" fill="#000" fill-opacity="0.5"/>
<rect x="298" y="514.9" width="1" height="3.2" fill="#000" fill-opacity="0.9"/>
<rect x="299" y="514.9" width="1" height="3.2" fill="#000" fill-opacity="0.9"/>
<rect x="302" y="514.9" width="1" height="3.2" fill="#000" fill-opacity="0.35"/>
<rect x="304" y="514.9" width="1" height="3.2" fill="#000" fill-opacity="0.8"/>
<polyline points="104,513.9 195,513.9 197.2,454.5 221.6,454.5 223.2,425.1 233.8,425.1 235.6,454.5 237.5,425.1 252.6,425.1 254.1,484.3 255.7,425.1 270.4,425.1 274,484.2 280.2,484.2 282.6,513.5 296.4,513.5 299,484.2 304.8,484.2" fill="none" stroke="#DF536B" stroke-width="1.1" stroke-linejoin="round"/>
<polyline points="104,510.2 146.2,510.2 148.5,509.6 170.2,509.3 171.8,505.4 173.3,503.1 185,502.5 186.9,498.9 190,495.1 191.9,488.9 193.1,477.6 195,473.8 196.9,465.1 198.8,464.4 200.7,461.3 202.5,460 205,460 206.9,461.9 209.4,464.4 211.3,462.6 213.8,461.6 215.7,460 217,453.8 218.2,450 220.7,446.9 222.6,444.4 223.8,440.1 225.7,430.1 227.6,420.1 230.1,416.3 232,418.2 233.2,425.1 234.4,435.1 235.6,442.6 236.5,435.1 237.5,410.7 238.8,413.2 240,416.3 241.3,413.8 243.2,410.7 245,409.4 246.9,410 248.8,412.6 250,417.6 251.3,427.6 252.6,437.6 253.8,455.2 255.1,448.9 256.3,443.3 259.4,442.9 262,442 263.8,443.3 267.6,443.6 270.4,443.7 272.2,446 274,455 275.8,458.5 277.9,459.4 279.3,466.6 281.1,477.3 282.9,483.6 284.7,486 288.3,486.3 291.9,484.5 294.6,483.1 296.4,480 298.2,473.8 300,472.3 302.6,474.7 304.8,475.2" fill="none" stroke="#1e1e1e" stroke-width="1.1" stroke-linejoin="round"/>
<text x="28.1" y="439.1" font-size="8.3">Mean habitat</text>
<text x="28.1" y="448.7" font-size="8.3">suitability</text>
<text x="28.1" y="458.3" font-size="8.3">Index /</text>
<text x="28.1" y="467.9" font-size="8.3">Committee</text>
<text x="28.1" y="477.5" font-size="8.3">averaging</text>
<rect x="445.5" y="391.2" width="216" height="127.4" fill="none" stroke="#222" stroke-width="1.0"/>
<line x1="440.5" y1="514.2" x2="445.5" y2="514.2" stroke="#222" stroke-width="1"/>
<text x="0" y="0" font-size="7.8" text-anchor="middle" transform="translate(434.1,514.2) rotate(-90) scale(1,1.12)">0.0</text>
<line x1="440.5" y1="490.5" x2="445.5" y2="490.5" stroke="#222" stroke-width="1"/>
<text x="0" y="0" font-size="7.8" text-anchor="middle" transform="translate(434.1,490.5) rotate(-90) scale(1,1.12)">0.2</text>
<line x1="440.5" y1="466.8" x2="445.5" y2="466.8" stroke="#222" stroke-width="1"/>
<text x="0" y="0" font-size="7.8" text-anchor="middle" transform="translate(434.1,466.8) rotate(-90) scale(1,1.12)">0.4</text>
<line x1="440.5" y1="443.1" x2="445.5" y2="443.1" stroke="#222" stroke-width="1"/>
<text x="0" y="0" font-size="7.8" text-anchor="middle" transform="translate(434.1,443.1) rotate(-90) scale(1,1.12)">0.6</text>
<line x1="440.5" y1="419.4" x2="445.5" y2="419.4" stroke="#222" stroke-width="1"/>
<text x="0" y="0" font-size="7.8" text-anchor="middle" transform="translate(434.1,419.4) rotate(-90) scale(1,1.12)">0.8</text>
<line x1="440.5" y1="395.7" x2="445.5" y2="395.7" stroke="#222" stroke-width="1"/>
<text x="0" y="0" font-size="7.8" text-anchor="middle" transform="translate(434.1,395.7) rotate(-90) scale(1,1.12)">1.0</text>
<line x1="494.4" y1="518.6" x2="494.4" y2="523.8" stroke="#222" stroke-width="1"/>
<text x="0" y="0" font-size="7.8" text-anchor="middle" transform="translate(494.4,536) scale(1,1.12)">5</text>
<line x1="544" y1="518.6" x2="544" y2="523.8" stroke="#222" stroke-width="1"/>
<text x="0" y="0" font-size="7.8" text-anchor="middle" transform="translate(544,536) scale(1,1.12)">6</text>
<line x1="593.6" y1="518.6" x2="593.6" y2="523.8" stroke="#222" stroke-width="1"/>
<text x="0" y="0" font-size="7.8" text-anchor="middle" transform="translate(593.6,536) scale(1,1.12)">7</text>
<line x1="643.2" y1="518.6" x2="643.2" y2="523.8" stroke="#222" stroke-width="1"/>
<text x="0" y="0" font-size="7.8" text-anchor="middle" transform="translate(643.2,536) scale(1,1.12)">8</text>
<text x="497.3" y="556.7" font-size="8.3" textLength="144.9" lengthAdjust="spacingAndGlyphs">Average of mean daily temperature (°C)</text>
<rect x="453" y="514.9" width="1" height="3.2" fill="#000" fill-opacity="0.5"/>
<rect x="465" y="514.9" width="1" height="3.2" fill="#000" fill-opacity="0.7"/>
<rect x="501" y="514.9" width="1" height="3.2" fill="#000" fill-opacity="0.7"/>
<rect x="532" y="514.9" width="1" height="3.2" fill="#000" fill-opacity="0.3"/>
<rect x="538" y="514.9" width="1" height="3.2" fill="#000" fill-opacity="0.55"/>
<rect x="539" y="514.9" width="1" height="3.2" fill="#000" fill-opacity="0.55"/>
<rect x="540" y="514.9" width="1" height="3.2" fill="#000" fill-opacity="0.55"/>
<rect x="542" y="514.9" width="1" height="3.2" fill="#000" fill-opacity="0.6"/>
<rect x="543" y="514.9" width="1" height="3.2" fill="#000" fill-opacity="0.6"/>
<rect x="545" y="514.9" width="1" height="3.2" fill="#000" fill-opacity="0.5"/>
<rect x="548" y="514.9" width="1" height="3.2" fill="#000" fill-opacity="0.7"/>
<rect x="550" y="514.9" width="1" height="3.2" fill="#000" fill-opacity="0.7"/>
<rect x="565" y="514.9" width="1" height="3.2" fill="#000" fill-opacity="0.45"/>
<rect x="566" y="514.9" width="1" height="3.2" fill="#000" fill-opacity="0.45"/>
<rect x="569" y="514.9" width="1" height="3.2" fill="#000" fill-opacity="0.55"/>
<rect x="572" y="514.9" width="1" height="3.2" fill="#000" fill-opacity="0.55"/>
<rect x="574" y="514.9" width="1" height="3.2" fill="#000" fill-opacity="0.3"/>
<rect x="575" y="514.9" width="1" height="3.2" fill="#000" fill-opacity="0.3"/>
<rect x="576" y="514.9" width="1" height="3.2" fill="#000" fill-opacity="0.9"/>
<rect x="577" y="514.9" width="1" height="3.2" fill="#000" fill-opacity="0.9"/>
<rect x="579" y="514.9" width="1" height="3.2" fill="#000" fill-opacity="0.9"/>
<rect x="580" y="514.9" width="1" height="3.2" fill="#000" fill-opacity="0.9"/>
<rect x="581" y="514.9" width="1" height="3.2" fill="#000" fill-opacity="0.9"/>
<rect x="582" y="514.9" width="1" height="3.2" fill="#000" fill-opacity="0.9"/>
<rect x="585" y="514.9" width="1" height="3.2" fill="#000" fill-opacity="0.9"/>
<rect x="586" y="514.9" width="1" height="3.2" fill="#000" fill-opacity="0.9"/>
<rect x="587" y="514.9" width="1" height="3.2" fill="#000" fill-opacity="0.9"/>
<rect x="588" y="514.9" width="1" height="3.2" fill="#000" fill-opacity="0.9"/>
<rect x="589" y="514.9" width="1" height="3.2" fill="#000" fill-opacity="0.9"/>
<rect x="590" y="514.9" width="1" height="3.2" fill="#000" fill-opacity="0.9"/>
<rect x="593" y="514.9" width="1" height="3.2" fill="#000" fill-opacity="0.65"/>
<rect x="594" y="514.9" width="1" height="3.2" fill="#000" fill-opacity="0.65"/>
<rect x="596" y="514.9" width="1" height="3.2" fill="#000" fill-opacity="0.85"/>
<rect x="598" y="514.9" width="1" height="3.2" fill="#000" fill-opacity="0.3"/>
<rect x="600" y="514.9" width="1" height="3.2" fill="#000" fill-opacity="0.75"/>
<rect x="602" y="514.9" width="1" height="3.2" fill="#000" fill-opacity="0.8"/>
<rect x="603" y="514.9" width="1" height="3.2" fill="#000" fill-opacity="0.8"/>
<rect x="604" y="514.9" width="1" height="3.2" fill="#000" fill-opacity="0.8"/>
<rect x="605" y="514.9" width="1" height="3.2" fill="#000" fill-opacity="0.5"/>
<rect x="606" y="514.9" width="1" height="3.2" fill="#000" fill-opacity="0.5"/>
<rect x="617" y="514.9" width="1" height="3.2" fill="#000" fill-opacity="0.75"/>
<rect x="618" y="514.9" width="1" height="3.2" fill="#000" fill-opacity="0.75"/>
<rect x="620" y="514.9" width="1" height="3.2" fill="#000" fill-opacity="0.35"/>
<rect x="621" y="514.9" width="1" height="3.2" fill="#000" fill-opacity="0.35"/>
<rect x="636" y="514.9" width="1" height="3.2" fill="#000" fill-opacity="0.7"/>
<rect x="638" y="514.9" width="1" height="3.2" fill="#000" fill-opacity="0.45"/>
<rect x="639" y="514.9" width="1" height="3.2" fill="#000" fill-opacity="0.45"/>
<rect x="640" y="514.9" width="1" height="3.2" fill="#000" fill-opacity="0.45"/>
<rect x="642" y="514.9" width="1" height="3.2" fill="#000" fill-opacity="0.5"/>
<rect x="643" y="514.9" width="1" height="3.2" fill="#000" fill-opacity="0.5"/>
<rect x="647" y="514.9" width="1" height="3.2" fill="#000" fill-opacity="0.9"/>
<rect x="648" y="514.9" width="1" height="3.2" fill="#000" fill-opacity="0.9"/>
<rect x="651" y="514.9" width="1" height="3.2" fill="#000" fill-opacity="0.35"/>
<rect x="653" y="514.9" width="1" height="3.2" fill="#000" fill-opacity="0.8"/>
<polyline points="453.5,514.2 501.6,514.2 503.9,509 535.7,509 544.3,490.7 544.7,470 546.5,450.2 548.6,438.7 550.5,435.6 553.6,435.6 555.8,431.5 557.9,430.1 560.5,425.5 564.4,425.1 565.8,400.7 568.7,400 570.5,395.9 588.5,396.1 590.6,405.2 593.4,396.1 596.8,405.2 599.9,399.9 603.1,405.2 605.5,396.1 633.3,396.1 635.2,405.7 637,405.7 639,400.6 645.1,400.6 646.9,405.2 649.6,415.5 653.9,415.5" fill="none" stroke="#DF536B" stroke-width="1.1" stroke-linejoin="round"/>
<polyline points="453.5,509.3 496.2,509.3 500.8,508.5 503.9,507 507,506.2 520.2,506.2 522.5,503.9 533.4,503.4 535.7,500.8 539.6,494.5 541.9,489.1 544.3,479.8 545.8,470.5 547.2,455.9 550,448 552.9,447.3 555.8,443.7 558.6,441.6 561.5,438.7 564.8,438 566.5,423.7 568.7,418.7 572.2,414.6 578,414.4 580,415.5 582.2,413.5 584.9,413.1 588.5,413.5 590.8,417.3 592.5,415.5 594.3,416.9 596.6,418.9 598.8,416.4 601.1,416.9 602.8,420 605.1,416 611.4,415.7 620.3,416 626.6,416.5 629,418.5 636.1,419.4 639.3,416.9 643.3,416.4 646,417.3 647.8,419.6 649.6,423.3 653.9,423.3" fill="none" stroke="#1e1e1e" stroke-width="1.1" stroke-linejoin="round"/>
<text x="377.3" y="439.7" font-size="8.3">Mean habitat</text>
<text x="377.3" y="449.3" font-size="8.3">suitability</text>
<text x="377.3" y="458.9" font-size="8.3">Index /</text>
<text x="377.3" y="468.5" font-size="8.3">Committee</text>
<text x="377.3" y="478.1" font-size="8.3">averaging</text>
</svg>
</body></html>
